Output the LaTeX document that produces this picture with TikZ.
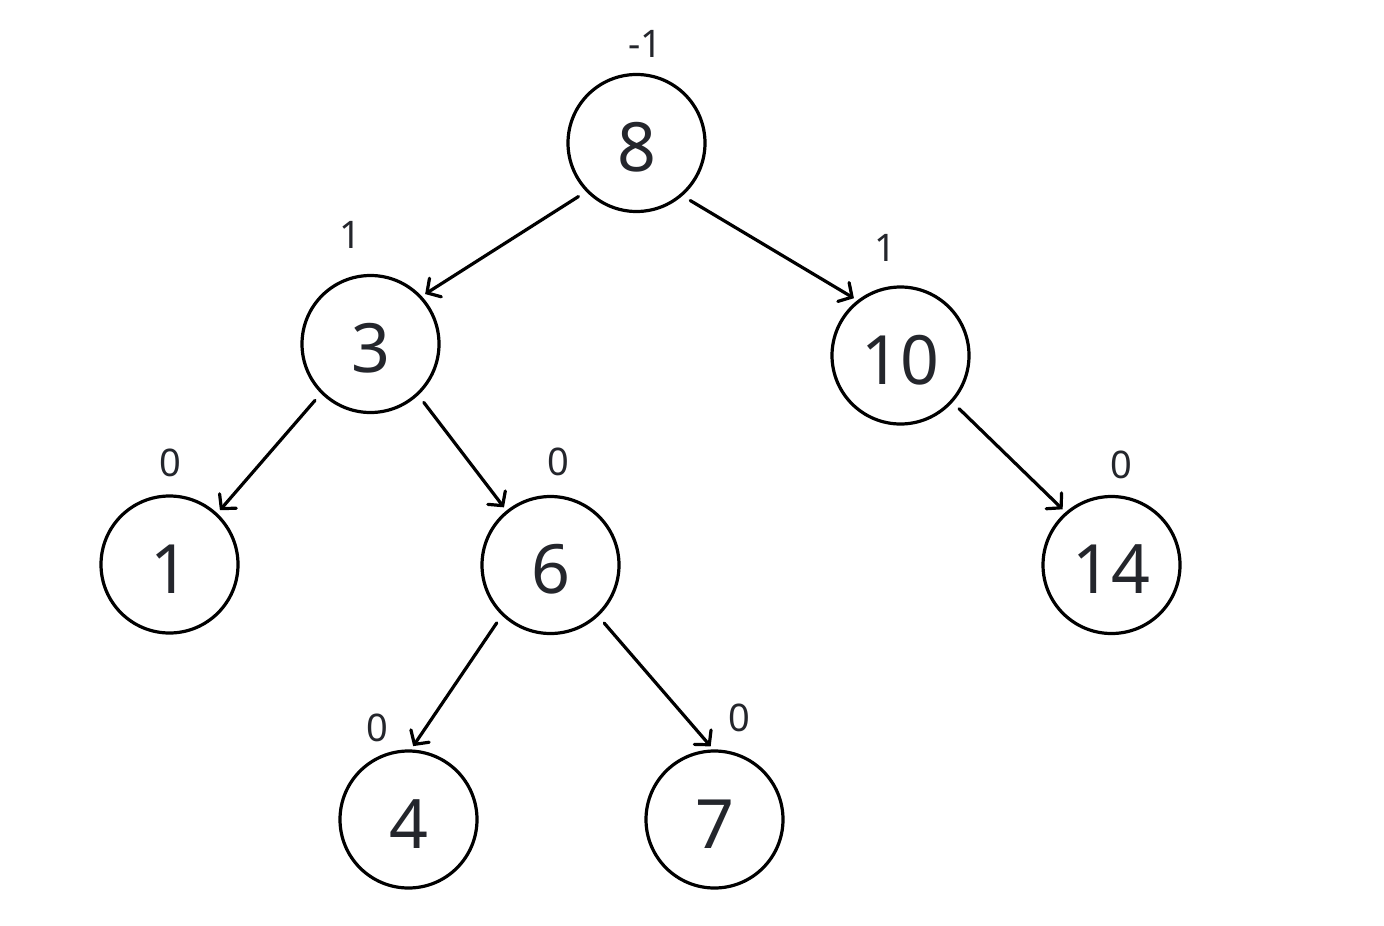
\documentclass[tikz,border=0pt]{standalone}
\usepackage{fontspec}
\setmainfont{Noto Sans}
\usetikzlibrary{arrows.meta}
\definecolor{txt}{RGB}{36,38,44}
\begin{document}
\begin{tikzpicture}[x=0.5pt,y=-0.5pt,
  vertex/.style={circle,draw=black,line width=1.6pt,minimum size=68.5pt,inner sep=0pt,text=txt,text height=28.5pt,text depth=0pt,font=\fontsize{34}{40}\selectfont},
  bal/.style={text=txt,inner sep=0pt,font=\fontsize{19}{22}\selectfont},
  edge/.style={draw=black,line width=1.6pt,line cap=round,-{Straight Barb[length=5pt,width=11pt,line cap=round]},shorten <=4.5pt,shorten >=2pt}]
\useasboundingbox[fill=white] (0,0) rectangle (1384,925);
\node[vertex] (n8) at (636.5,143) {8};
\node[vertex] (n3) at (370.5,344) {3};
\node[vertex] (n10) at (900.5,355.5) {10};
\node[vertex] (n1) at (169.5,564.5) {1};
\node[vertex] (n6) at (550.5,565) {6};
\node[vertex] (n14) at (1111.5,565) {14};
\node[vertex] (n4) at (408.5,819.5) {4};
\node[vertex] (n7) at (714.5,819.5) {7};
\node[bal] (b8) at (645,44) {-1};
\node[bal] (b3) at (350,235) {1};
\node[bal] (b10) at (885,248) {1};
\node[bal] (b1) at (170,463) {0};
\node[bal] (b6) at (558,462) {0};
\node[bal] (b14) at (1121,465) {0};
\node[bal] (b4) at (377,728) {0};
\node[bal] (b7) at (739,718) {0};
\draw[edge] (n8.224.5) -- (n3.43);
\draw[edge] (n8.311) -- (n10.128);
\draw[edge] (n3.225.5) -- (n1.47.6);
\draw[edge] (n3.313.5) -- (n6.129);
\draw[edge] (n10.318) -- (n14.131.7);
\draw[edge] (n6.226) -- (n4.88.5);
\draw[edge] (n6.313.4) -- (n7.91.5);
\end{tikzpicture}
\end{document}
